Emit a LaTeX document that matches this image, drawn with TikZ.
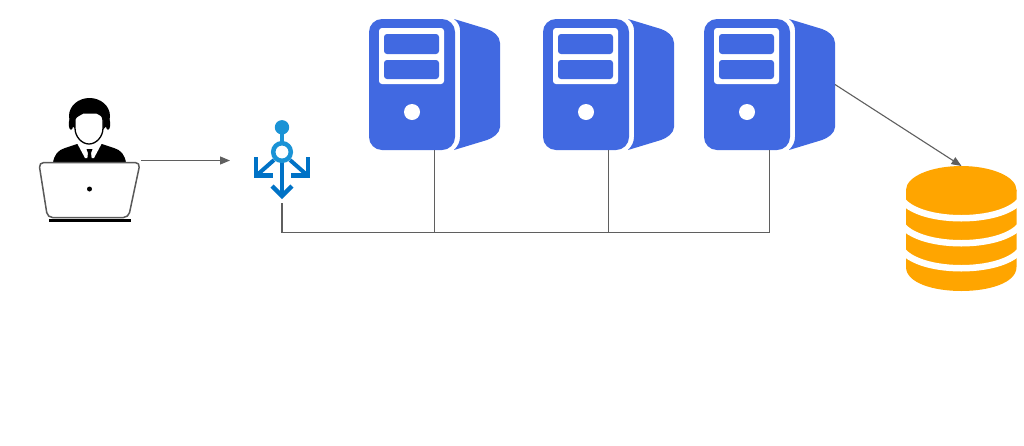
\documentclass[tikz,border=0pt]{standalone}
\usetikzlibrary{arrows.meta}
\definecolor{srvblue}{HTML}{4169E1}
\definecolor{dborange}{HTML}{FFA500}
\definecolor{lblight}{HTML}{1A93D6}
\definecolor{lbdark}{HTML}{0072C6}
\definecolor{wire}{HTML}{5F5F5F}
\tikzset{
  box/.style={inner sep=0pt,outer sep=0pt,minimum width=#1},
  wireline/.style={draw=wire,line width=1.1pt},
  wirearrow/.style={wireline,-{Triangle[length=10pt,width=8pt]}},
  dbband/.style={white,line width=6.5pt},
  srvicon/.pic={
    \fill[srvblue,rounded corners=13pt] (0,0) rectangle (86,131);
    \fill[white,rounded corners=3pt] (10,9) rectangle (75,65);
    \fill[srvblue,rounded corners=3pt] (15,15) rectangle (70,35);
    \fill[srvblue,rounded corners=3pt] (15,41) rectangle (70,60);
    \fill[white] (43,93) circle (8pt);
    \fill[srvblue] (85,0) .. controls (89,3) and (91,7) .. (91,11) -- (91,118)
      .. controls (91,123) and (89,127) .. (85,131) -- (118,121)
      .. controls (124,119) and (131,114) .. (131,108) -- (131,24)
      .. controls (131,17) and (124,12) .. (118,10) -- cycle;
  }
}
\begin{document}
\begin{tikzpicture}[x=1pt,y=-1pt]
\useasboundingbox (0,0) rectangle (1024,445);
\fill[white] (0,0) rectangle (1024,445);

% anchor nodes
\node[box=101pt,minimum height=125pt] (user) at (90.5,160.5) {};
\node[box=104pt,minimum height=83pt] (lb) at (282,161.5) {};
\node[box=131pt,minimum height=131pt] (srv1) at (434.5,84.5) {};
\node[box=131pt,minimum height=131pt] (srv2) at (608.5,84.5) {};
\node[box=131pt,minimum height=131pt] (srv3) at (769.5,84.5) {};
\node[box=111pt,minimum height=125pt] (db) at (961.5,228.5) {};
\coordinate (busend) at (srv3.south |- 0,232.5);

% servers
\pic at (369,19) {srvicon};
\pic at (543,19) {srvicon};
\pic at (704,19) {srvicon};

% user
\fill[black] (53,163) .. controls (54,155) and (58,150) .. (65,148)
  -- (77,144) -- (102,144) -- (114,148) .. controls (121,150) and (125,155) .. (126,163) -- cycle;
\fill[white] (77,143) -- (85,158) -- (94,158) -- (102,143) -- cycle;
\fill[black] (86.5,149) -- (92.5,149) -- (91,153) -- (92,161) -- (89.5,163) -- (87,161) -- (88,153) -- cycle;
\fill[black] (89.5,116) ellipse (20.5pt and 18pt);
\fill[black] (71,124) ellipse (2.2pt and 6pt);
\fill[black] (108,124) ellipse (2.2pt and 6pt);
\draw[black,line width=1.3pt,fill=white] (75,119) .. controls (76,116) and (80,115) .. (83,113)
  -- (97,113) .. controls (100,114) and (103,116) .. (103,120)
  -- (103,128) .. controls (103,137) and (96,144) .. (89,144)
  .. controls (82,144) and (75,137) .. (75,128) -- cycle;
\draw[draw=black!65,line width=1.5pt,fill=white,rounded corners=5pt]
  (38.8,162.5) -- (140.2,162.5) -- (128.5,217.5) -- (47.5,217.5) -- cycle;
\fill[black] (89.5,189) circle (2.5pt);
\fill[black] (49,219.3) rectangle (131,222);

% load balancer
\draw[lblight,line width=3.6pt] (282,127) -- (282,142);
\draw[lbdark,line width=4pt] (282,160) -- (282,195);
\draw[lbdark,line width=4pt] (274,160) -- (257,175);
\draw[lbdark,line width=4pt] (290,160) -- (307,175);
\draw[lbdark,line width=4.4pt,line join=miter] (256,157) -- (256,175.5) -- (273,175.5);
\draw[lbdark,line width=4.4pt,line join=miter] (308,157) -- (308,175.5) -- (291,175.5);
\draw[lbdark,line width=4.4pt,line join=miter] (272,186) -- (282,196) -- (292,186);
\fill[lblight] (282,127.3) circle (7.2pt);
\draw[lblight,line width=4.5pt,fill=white] (282,152) circle (8.8pt);

% database
\fill[dborange] (906,190) -- (906,267) .. controls (906,299) and (1016.5,299) .. (1016.5,267) -- (1016.5,190) -- cycle;
\draw[dbband] (898,189) .. controls (898,228) and (1024.5,228) .. (1024.5,189);
\draw[dbband] (898,214) .. controls (898,253) and (1024.5,253) .. (1024.5,214);
\draw[dbband] (898,239) .. controls (898,278) and (1024.5,278) .. (1024.5,239);
\fill[dborange] (961.25,190) ellipse (55.25pt and 24pt);

% connectors
\draw[wirearrow] (user.east) -- (user.east -| lb.west);
\draw[wireline] (lb.south) |- (busend) -- (srv3.south);
\draw[wireline] (srv1.south) -- (srv1.south |- busend);
\draw[wireline] (srv2.south) -- (srv2.south |- busend);
\draw[wirearrow] (srv3.east) -- (db.north);
\end{tikzpicture}
\end{document}
